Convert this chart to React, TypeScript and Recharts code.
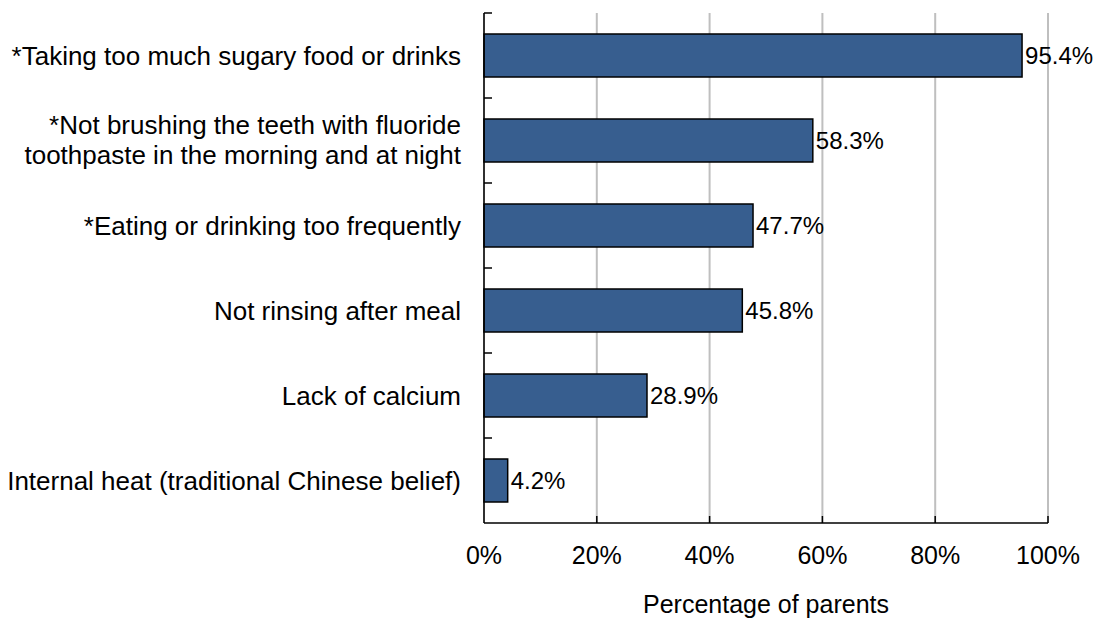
import React from "react";
import { BarChart, Bar, XAxis, YAxis, CartesianGrid, LabelList } from "recharts";

const categories = [
  "*Taking too much sugary food or drinks",
  "*Not brushing the teeth with fluoride\ntoothpaste in the morning and at night",
  "*Eating or drinking too frequently",
  "Not rinsing after meal",
  "Lack of calcium",
  "Internal heat (traditional Chinese belief)",
];
const percentages = [95.4, 58.3, 47.7, 45.8, 28.9, 4.2];
const xTicks = [0, 20, 40, 60, 80, 100];

const data = categories.map((name, i) => ({ name, value: percentages[i] }));

const W = 1093;
const H = 620;
const MARGIN = { top: 13, right: 45, left: 0, bottom: 0 };
const Y_AXIS_W = 484;
const X_AXIS_H = 97;
const FONT = "'Liberation Sans', Arial, sans-serif";
const FS = 25;
const band = (H - MARGIN.top - MARGIN.bottom - X_AXIS_H) / categories.length;

function CategoryTick(props: any) {
  const { x, y, payload } = props;
  const lines = String(payload.value).split("\n");
  const top = y - band / 2;
  const offsets = lines.length > 1 ? [-16, 14] : [0];
  return (
    <g>
      <line x1={x} x2={x + 8} y1={top} y2={top} stroke="#000" strokeWidth={1.5} />
      {lines.map((ln, i) => (
        <text
          key={i}
          x={x - 23}
          y={y + offsets[i]}
          dy="0.36em"
          textAnchor="end"
          fontSize={26}
          fontFamily={FONT}
          fill="#000"
        >
          {ln}
        </text>
      ))}
    </g>
  );
}

function PercentTick(props: any) {
  const { x, y, payload } = props;
  return (
    <g>
      {payload.value > 0 && <line x1={x} x2={x} y1={y} y2={y - 7} stroke="#000" strokeWidth={1.5} />}
      <text x={x} y={y + 32} dy="0.36em" textAnchor="middle" fontSize={FS} fontFamily={FONT} fill="#000">
        {`${payload.value}%`}
      </text>
    </g>
  );
}

export default function App() {
  return (
    <div style={{ position: "absolute", left: 0, top: 0, background: "#fff" }}>
      <BarChart width={W} height={H} data={data} layout="vertical" margin={MARGIN}>
        <CartesianGrid horizontal={false} stroke="#BFBFBF" strokeWidth={2} />
        <XAxis
          type="number"
          domain={[0, 100]}
          ticks={xTicks}
          height={X_AXIS_H}
          tickSize={0}
          tickMargin={0}
          tickLine={false}
          tick={<PercentTick />}
          stroke="#000"
          strokeWidth={1.5}
          label={{
            value: "Percentage of parents",
            position: "insideBottom",
            offset: 7,
            fontSize: FS,
            fontFamily: FONT,
            fill: "#000",
          }}
        />
        <YAxis
          type="category"
          dataKey="name"
          width={Y_AXIS_W}
          tickSize={0}
          tickMargin={0}
          tickLine={false}
          tick={<CategoryTick />}
          interval={0}
          stroke="#000"
          strokeWidth={1.5}
        />
        <Bar dataKey="value" fill="#375E8F" stroke="#000" strokeWidth={1.5} barSize={43} isAnimationActive={false}>
          <LabelList
            dataKey="value"
            position="right"
            offset={3}
            formatter={(v: number) => `${v.toFixed(1)}%`}
            fontSize={24}
            fontFamily={FONT}
            fill="#000"
          />
        </Bar>
      </BarChart>
    </div>
  );
}
